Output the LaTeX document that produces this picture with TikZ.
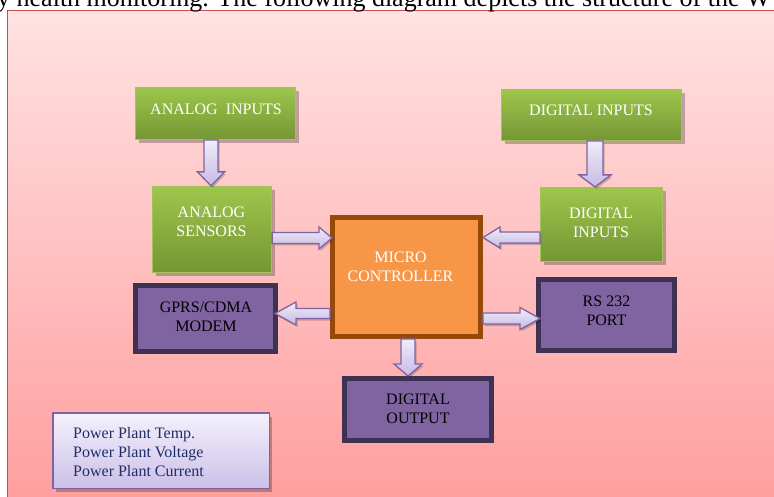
\documentclass[tikz,border=0pt]{standalone}
\usepackage{fontspec}
\setmainfont{Liberation Serif}
\usetikzlibrary{calc,shadows}
\definecolor{framered}{RGB}{192,80,77}
\definecolor{bgtop}{RGB}{255,226,226}
\definecolor{bgbot}{RGB}{255,156,156}
\definecolor{gtop}{RGB}{158,198,76}
\definecolor{gbot}{RGB}{116,150,52}
\definecolor{gborder}{RGB}{160,196,90}
\definecolor{mcfill}{RGB}{247,150,70}
\definecolor{mcborder}{RGB}{152,72,7}
\definecolor{pfill}{RGB}{128,100,162}
\definecolor{pborder}{RGB}{63,49,81}
\definecolor{atop}{RGB}{240,236,250}
\definecolor{abot}{RGB}{198,186,228}
\definecolor{aborder}{RGB}{128,100,162}
\definecolor{ltop}{RGB}{244,241,252}
\definecolor{lbot}{RGB}{204,192,232}
\definecolor{navy}{RGB}{31,45,105}
\newcommand\blockarrow[5]{%
  \coordinate (tmpB) at ($(#2)!#5!(#1)$);
  \path[arrowstyle]
    ($(#1)!#3!90:(#2)$) -- ($(tmpB)!#3!-90:(#1)$) -- ($(tmpB)!#4!-90:(#1)$)
    -- (#2) -- ($(tmpB)!#4!90:(#1)$) -- ($(tmpB)!#3!90:(#1)$)
    -- ($(#1)!#3!-90:(#2)$) -- cycle;
}
\begin{document}
\begin{tikzpicture}[x=1pt,y=-1pt,
  softshadow/.style={drop shadow={shadow xshift=3pt,shadow yshift=-4pt,fill=black,opacity=0.25}},
  greenbox/.style={draw=gborder,line width=1.2pt,top color=gtop,bottom color=gbot,inner sep=0,softshadow},
  mcbox/.style={draw=mcborder,line width=5pt,fill=mcfill,inner sep=0},
  purplebox/.style={draw=pborder,line width=5pt,fill=pfill,inner sep=0},
  legendbox/.style={draw=aborder,line width=1.5pt,top color=ltop,bottom color=lbot,inner sep=0,softshadow},
  arrowstyle/.style={draw=aborder,line width=1.3pt,line join=miter,top color=atop,bottom color=abot,
     drop shadow={shadow xshift=1.5pt,shadow yshift=-2pt,fill=black,opacity=0.2}},
  lbl/.style={font=\fontsize{16}{19}\selectfont,align=center,inner sep=0},
]
\useasboundingbox (0,0) rectangle (774,497);
\clip (0,0) rectangle (774,497);
% background frame
\path[draw=framered,line width=1.8pt,top color=bgtop,bottom color=bgbot] (7.5,10.5) rectangle (800,520);
% cut-off line of text above
\node[font=\fontsize{26}{30}\selectfont,anchor=base west,inner sep=0] (toptext) at (-3,7)
  {y health monitoring. The following diagram depicts the structure of the W};

% boxes
\node[greenbox,minimum width=160pt,minimum height=52pt] (ai) at (215.5,113.5) {};
\node[greenbox,minimum width=119pt,minimum height=86pt] (as) at (212,229.5) {};
\node[greenbox,minimum width=180pt,minimum height=51pt] (di1) at (591.5,115) {};
\node[greenbox,minimum width=122pt,minimum height=74pt] (di2) at (601.5,224.5) {};
\node[mcbox,minimum width=148pt,minimum height=119pt] (mc) at (406.5,277) {};
\node[purplebox,minimum width=140pt,minimum height=66pt] (gprs) at (205.5,318.5) {};
\node[purplebox,minimum width=136pt,minimum height=71pt] (rs) at (606.5,315) {};
\node[purplebox,minimum width=147pt,minimum height=62pt] (dout) at (418,409.5) {};
\node[legendbox,minimum width=216.5pt,minimum height=75.5pt] (legend) at (161,450.5) {};

% labels
\node[lbl,text=white] (ai-t) at (216,109) {ANALOG\ \ INPUTS};
\node[lbl,text=white] (as-t) at (211.5,222) {ANALOG\\SENSORS};
\node[lbl,text=white] (di1-t) at (591,110) {DIGITAL INPUTS};
\node[lbl,text=white] (di2-t) at (601,223) {DIGITAL\\INPUTS};
\node[lbl,text=white] (mc-t) at (400.5,266.5) {MICRO\\CONTROLLER};
\node[lbl] (gprs-t) at (206,317) {GPRS/CDMA\\MODEM};
\node[lbl] (rs-t) at (606.5,310.5) {RS 232\\PORT};
\node[lbl] (dout-t) at (418,408.5) {DIGITAL\\OUTPUT};
\node[lbl,align=left,text=navy,anchor=west] (legend-t) at (73,452)
  {Power Plant Temp.\\Power Plant Voltage\\Power Plant Current};

% block arrows
\coordinate (a1s) at ([xshift=-1pt]as.north |- ai.south);
\coordinate (a1e) at (a1s |- as.north);
\blockarrow{a1s}{a1e}{7pt}{13.5pt}{14pt}
\coordinate (a2s) at ([xshift=3.5pt]di1.south);
\coordinate (a2e) at (a2s |- di2.north);
\blockarrow{a2s}{a2e}{8pt}{16pt}{12pt}
\coordinate (a3s) at ([yshift=-8.5pt]as.east);
\coordinate (a3e) at ([xshift=2pt]a3s -| mc.west);
\blockarrow{a3s}{a3e}{5.5pt}{11pt}{13pt}
\coordinate (a4s) at ([yshift=-13pt]di2.west);
\coordinate (a4e) at (a4s -| mc.east);
\blockarrow{a4s}{a4e}{5.5pt}{10.5pt}{17pt}
\coordinate (a5s) at ([yshift=-36.5pt]mc.west);
\coordinate (a5e) at ([xshift=-3pt]a5s -| gprs.east);
\blockarrow{a5s}{a5e}{5pt}{11.5pt}{21pt}
\coordinate (a6s) at ([yshift=-41.5pt]mc.east);
\coordinate (a6e) at ([xshift=4pt]a6s -| rs.west);
\blockarrow{a6s}{a6e}{5.5pt}{11pt}{20pt}
\coordinate (a7s) at ([xshift=1.5pt]mc.south);
\coordinate (a7e) at (a7s |- dout.north);
\blockarrow{a7s}{a7e}{7pt}{14pt}{12pt}
\end{tikzpicture}
\end{document}
